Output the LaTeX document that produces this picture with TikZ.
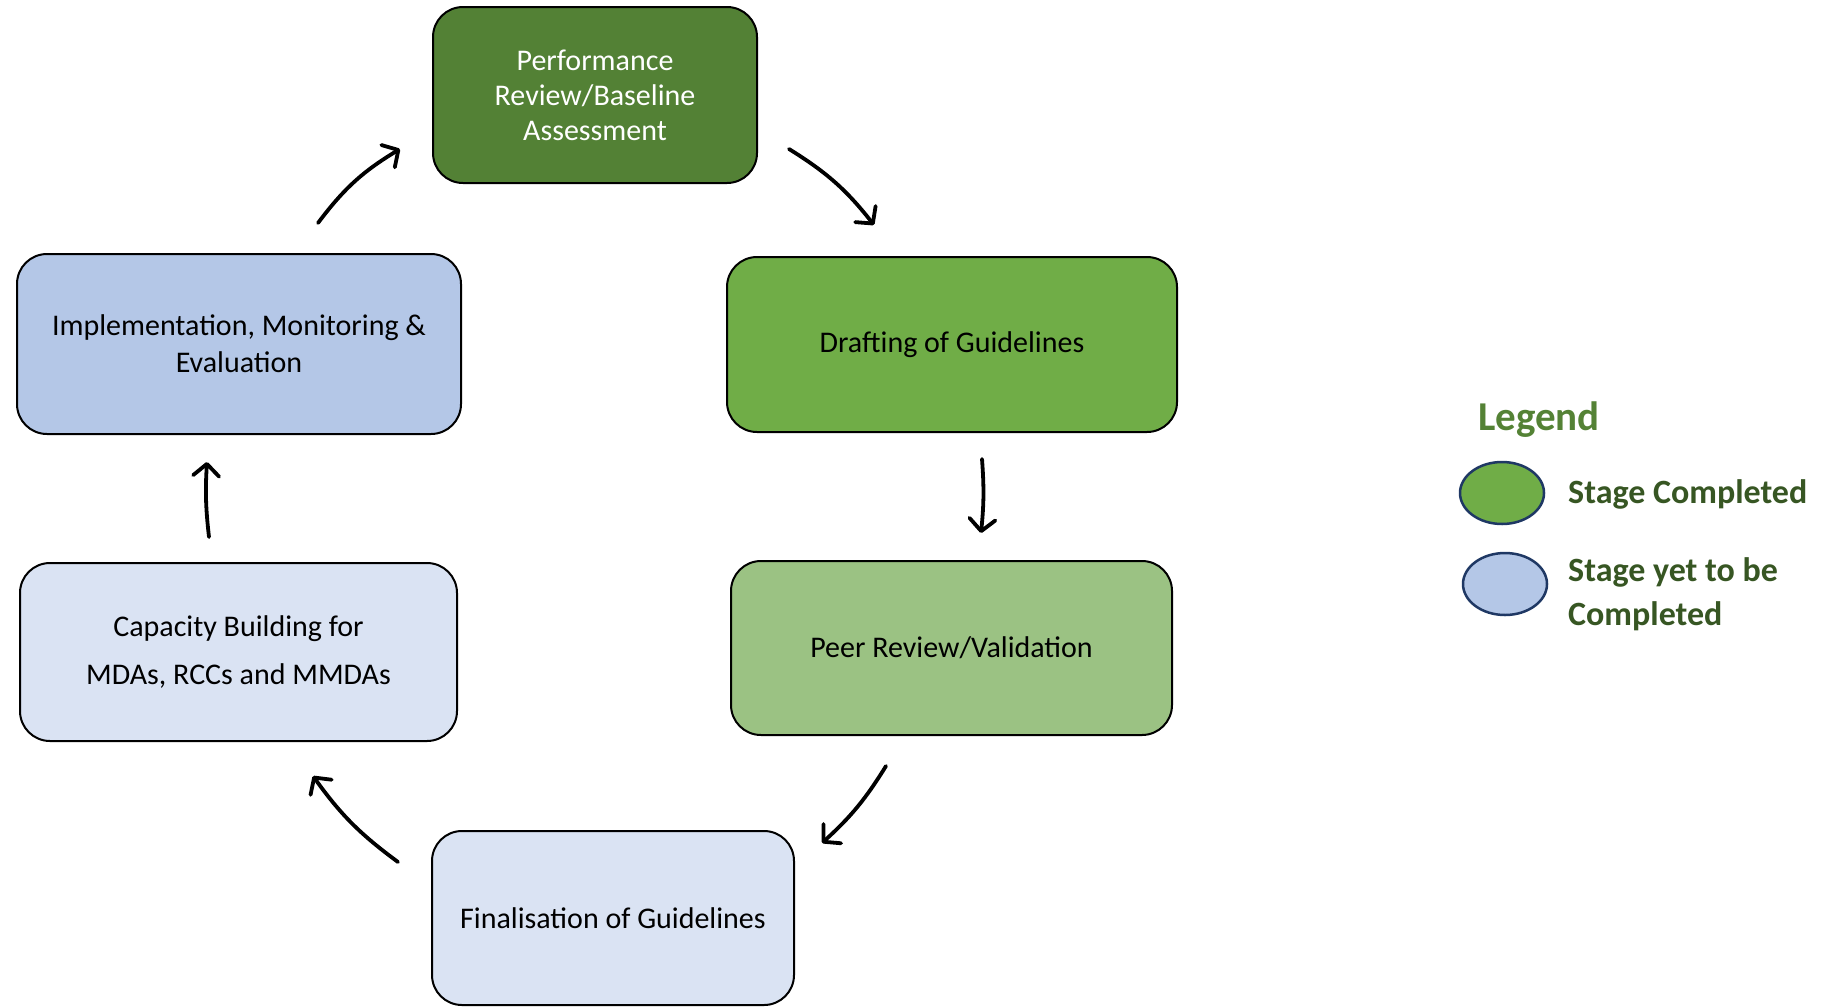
\documentclass[tikz,border=0pt]{standalone}
\usepackage{fontspec}
\setmainfont{Carlito}
\usetikzlibrary{arrows.meta,shapes.geometric}
\definecolor{gDark}{HTML}{538135}
\definecolor{gMid}{HTML}{70AD47}
\definecolor{gLight}{HTML}{9BC283}
\definecolor{bMid}{HTML}{B4C7E7}
\definecolor{bLight}{HTML}{DAE3F3}
\definecolor{legTitle}{HTML}{548235}
\definecolor{legText}{HTML}{375623}
\definecolor{navy}{HTML}{1F3864}
\begin{document}
\begin{tikzpicture}[x=1pt,y=-1pt,
  stagebox/.style={draw=black, line width=2pt, rounded corners=30pt, align=center, inner sep=0pt},
  boxfont/.style={font=\fontsize{30}{#1}\selectfont},
  flow/.style={line width=3.8pt, line cap=round, -{Straight Barb[length=12pt,width=26pt,round]}},
  legdot/.style={ellipse, draw=navy, line width=2.5pt, minimum width=84pt, minimum height=62pt, inner sep=0pt},
  legtxt/.style={anchor=base west, text=legText, font=\fontsize{34}{42}\selectfont\bfseries, inner sep=0pt, align=left}
]
\path[use as bounding box] (0,0) rectangle (1844,1007);

\node[stagebox, boxfont=35, fill=gDark, text=white, minimum width=324pt, minimum height=176pt] (perf) at (595,95) {Performance\\Review/Baseline\\Assessment};
\node[stagebox, boxfont=37, fill=gMid, minimum width=450pt, minimum height=175pt] (draft) at (952,344.5) {Drafting of Guidelines};
\node[stagebox, boxfont=37, fill=gLight, minimum width=441pt, minimum height=174pt] (peer) at (951.5,648) {Peer Review/Validation};
\node[stagebox, boxfont=37, fill=bLight, minimum width=362pt, minimum height=174pt] (fin) at (613,918) {Finalisation of Guidelines};
\node[stagebox, boxfont=48, fill=bLight, minimum width=437pt, minimum height=178pt] (cap) at (238.5,652) {Capacity Building for\\MDAs, RCCs and MMDAs};
\node[stagebox, boxfont=37, fill=bMid, minimum width=444pt, minimum height=180pt] (impl) at (239,344) {Implementation, Monitoring \&\\Evaluation};

\coordinate (a1s) at (318,223); \coordinate (a1e) at (400,149);
\coordinate (a2s) at (789,149); \coordinate (a2e) at (874,225);
\coordinate (a3s) at (982,459); \coordinate (a3e) at (981,533);
\coordinate (a4s) at (886,766); \coordinate (a4e) at (822,843);
\coordinate (a5s) at (398,862); \coordinate (a5e) at (313,776);
\coordinate (a6s) at (209,537); \coordinate (a6e) at (207,462);

\draw[flow] (a1s) to[bend left=11] (a1e);
\draw[flow] (a2s) to[bend left=10] (a2e);
\draw[flow] (a3s) to[bend left=5] (a3e);
\draw[flow] (a4s) to[bend left=8] (a4e);
\draw[flow] (a5s) to[bend left=9] (a5e);
\draw[flow] (a6s) to[bend left=5] (a6e);

\node[anchor=base west, inner sep=0pt, text=legTitle, font=\fontsize{41}{48}\selectfont\bfseries] (legt) at (1478,430) {Legend};
\node[legdot, fill=gMid] (ld1) at (1502,493) {};
\node[legdot, fill=bMid] (ld2) at (1505,584) {};
\node[legtxt] (lt1) at (1568,503) {Stage Completed};
\node[legtxt, anchor=north west, font=\fontsize{34}{44}\selectfont\bfseries] (lt2) at (1568,557) {Stage yet to be\\Completed};
\end{tikzpicture}
\end{document}
